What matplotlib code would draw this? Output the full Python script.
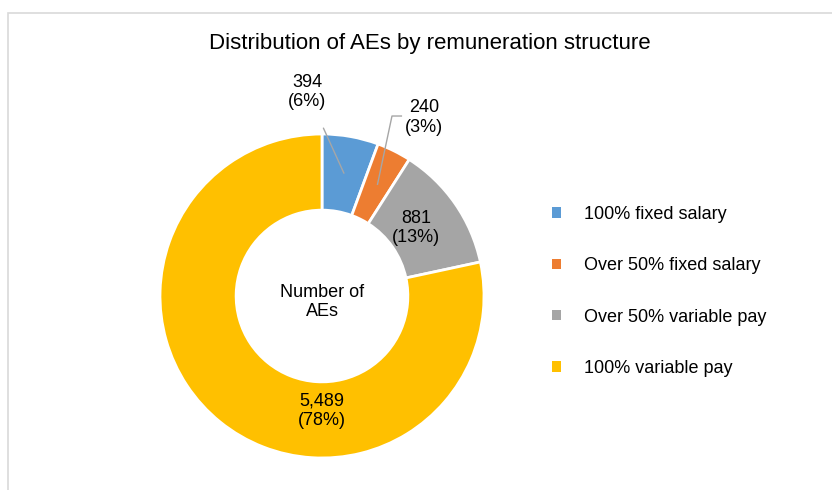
import numpy as np
import matplotlib
matplotlib.use('Agg')
import matplotlib.pyplot as plt
from matplotlib.patches import Rectangle, Patch

plt.rcParams['font.family'] = ['Liberation Sans', 'DejaVu Sans']

# Data
categories = ['100% fixed salary', 'Over 50% fixed salary', 'Over 50% variable pay', '100% variable pay']
counts = [394, 240, 881, 5489]
colors = ['#5B9BD5', '#ED7D31', '#A5A5A5', '#FFC000']

W, H = 832, 490
fig = plt.figure(figsize=(W / 100, H / 100), dpi=100)

# light frame (only top and left edges visible in the reference)
fig.add_artist(Rectangle((8 / W, -0.2), 1.2, (H - 13) / H + 0.2, transform=fig.transFigure,
                         fill=False, ec='#D9D9D9', lw=1.2))

# donut axes: centre at (322, 296) px, outer radius 162 px
cx, cy, R, half = 322, 296, 162, 200
ax = fig.add_axes([(cx - half) / W, (H - cy - half) / H, 2 * half / W, 2 * half / H])
wedges, _ = ax.pie(counts, colors=colors, startangle=90, counterclock=False,
                   wedgeprops=dict(width=0.47, edgecolor='white', linewidth=2))
lim = half / R
ax.set_xlim(-lim, lim)
ax.set_ylim(-lim, lim)
ax.set_aspect('equal')
ax.axis('off')

total = sum(counts)
labels = ['{:,}\n({:.0f}%)'.format(c, 100 * c / total) for c in counts]

# mid-angle of each wedge for leader lines
mids = [np.deg2rad((w.theta1 + w.theta2) / 2) for w in wedges]

fs = 13
line_col = '#A6A6A6'
# 394: outside label with leader line
ax.annotate(labels[0], xy=(0.77 * np.cos(mids[0]), 0.77 * np.sin(mids[0])),
            xytext=(-0.093, 1.26), ha='center', va='center', fontsize=fs,
            arrowprops=dict(arrowstyle='-', color=line_col, lw=1, shrinkA=12, shrinkB=0))
# 240: outside label with elbow leader line
p = (0.77 * np.cos(mids[1]), 0.77 * np.sin(mids[1]))
ax.plot([p[0], 0.432, 0.49], [p[1], 1.111, 1.111], color=line_col, lw=1)
ax.text(0.63, 1.10, labels[1], ha='center', va='center', fontsize=fs)
# 881 inside the ring
ax.text(0.58, 0.42, labels[2], ha='center', va='center', fontsize=fs)
# 5,489 at bottom of the ring
ax.text(0.0, -0.71, labels[3], ha='center', va='center', fontsize=fs)
# centre text
ax.text(0.0, -0.037, 'Number of\nAEs', ha='center', va='center', fontsize=fs)

fig.text(429.5 / W, 1 - 44 / H, 'Distribution of AEs by remuneration structure',
         ha='center', va='center', fontsize=16)

handles = [Patch(facecolor=c, edgecolor='none') for c in colors]
fig.legend(handles, categories, loc='center left', bbox_to_anchor=(552 / W, 1 - 291.5 / H),
           frameon=False, fontsize=fs, handlelength=0.5, handleheight=0.5,
           handletextpad=1.3, labelspacing=1.9, borderpad=0, borderaxespad=0)

fig.savefig('out.png', dpi=100)
